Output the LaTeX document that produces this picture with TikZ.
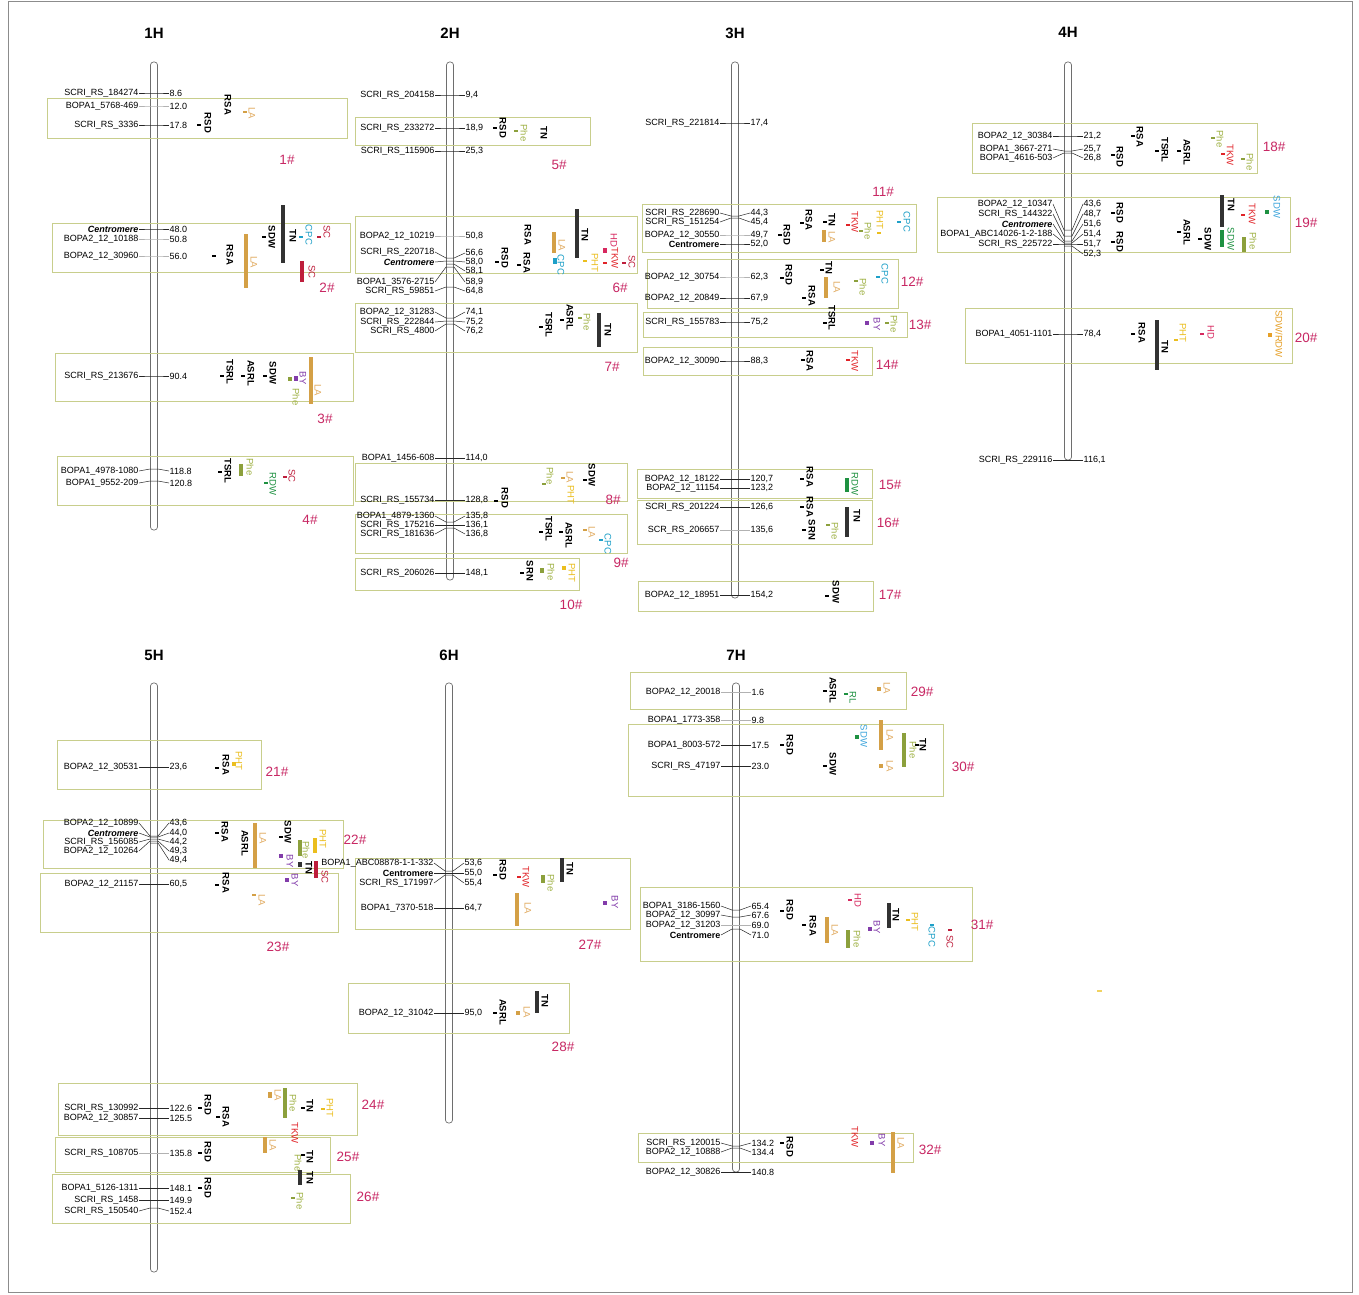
\documentclass[tikz,border=0pt]{standalone}
\usepackage{fontspec}
\setmainfont{Liberation Sans}
\newcounter{mkc}
\newcounter{tlc}
\definecolor{boxc}{RGB}{200,206,140}
\definecolor{numc}{RGB}{200,40,100}
\definecolor{laC}{RGB}{212,160,70}
\definecolor{laT}{RGB}{225,170,95}
\definecolor{pheC}{RGB}{140,160,60}
\definecolor{pheT}{RGB}{160,178,70}
\definecolor{phtC}{RGB}{235,190,30}
\definecolor{cpcC}{RGB}{30,160,200}
\definecolor{scC}{RGB}{190,30,60}
\definecolor{tkwC}{RGB}{225,35,40}
\definecolor{hdC}{RGB}{215,40,95}
\definecolor{byC}{RGB}{130,60,170}
\definecolor{grC}{RGB}{30,145,65}
\definecolor{sdwB}{RGB}{60,165,220}
\definecolor{tnC}{RGB}{50,50,50}
\definecolor{orC}{RGB}{230,160,40}
\definecolor{chrC}{RGB}{110,110,110}
\tikzset{
 mname/.style={font=\fontsize{9}{10}\selectfont, inner sep=0.5pt},
 mnum/.style={font=\fontsize{9}{10}\selectfont, inner sep=0.5pt},
 mline/.style={draw=black!85, line width=0.5pt},
 faint/.style={draw=black!30},
 trb/.style={rotate=-90, font=\bfseries\fontsize{9.5}{10}\selectfont, inner sep=0pt},
 trc/.style={rotate=-90, font=\fontsize{9.5}{10}\selectfont, inner sep=0pt},
 qbox/.style={draw=boxc, line width=0.9pt},
 qlab/.style={text=numc, font=\fontsize{13.5}{14}\selectfont, inner sep=0pt},
 chrom/.style={draw=chrC, line width=0.7pt, fill=white, rounded corners=3pt},
 ctitle/.style={font=\bfseries\fontsize{15}{16}\selectfont, inner sep=0pt},
}
\newcommand\chromo[5]{\stepcounter{tlc}\draw[chrom] ({#1-3.5},#2) rectangle ({#1+3.5},#3);
 \node[ctitle] (ch\thetlc) at (#1,#5) {#4};}
\newcommand\mk[7][]{\stepcounter{mkc}%
 \node[mname,anchor=east] (mn\themkc) at ({#2-15},#4) {#6};%
 \node[mnum,anchor=west] (mv\themkc) at ({#2+15},#5) {#7};%
 \draw[mline,#1] (mn\themkc.east) -- ({#2-4},#3) -- ({#2+4},#3) -- (mv\themkc.west);}
\newcommand\mkv[4]{\stepcounter{mkc}%
 \node[mnum,anchor=west] (mv\themkc) at ({#1+15},#3) {#4};%
 \coordinate (mc\themkc) at ({#1-4},#2);%
 \draw[mline] (mc\themkc) -- ({#1+4},#2) -- (mv\themkc.west);}
\newcommand\qtb[3]{\stepcounter{tlc}\node[trb] (tl\thetlc) at (#1,#2) {#3};}
\newcommand\qtc[4]{\stepcounter{tlc}\node[trc,text=#1] (tl\thetlc) at (#2,#3) {#4};}
\newcommand\qbar[4]{\fill[#1] ({#2-2},#3) rectangle ({#2+2},#4);}
\newcommand\qtk[3]{\fill[#1] ({#2-2},{#3-0.6}) rectangle ({#2+2},{#3+0.6});}
\newcommand\qbx[7]{\stepcounter{tlc}\draw[qbox] (#1,#2) rectangle (#3,#4);
 \node[qlab] (bx\thetlc) at (#6,#7) {#5};}
\begin{document}
\begin{tikzpicture}[x=1pt,y=-1pt]
\fill[white] (0,0) rectangle (1359,1294);
\useasboundingbox (0,0) rectangle (1359,1294);
\draw[black!45, line width=0.6pt] (8,1) rectangle (1352,1292);
% ---------- chromosomes
\chromo{154}{62}{530}{1H}{33}
\chromo{450}{62}{580}{2H}{33}
\chromo{735}{62}{598}{3H}{33}
\chromo{1068}{62}{460}{4H}{32}
\chromo{154}{683}{1272}{5H}{655}
\chromo{449}{683}{1123}{6H}{655}
\chromo{736}{683}{1172}{7H}{655}
% ---------- boxes
\qbx{47}{98}{347}{138}{1\#}{287}{160}
\qbx{52}{223}{350}{272}{2\#}{327}{288}
\qbx{55}{353}{353}{401}{3\#}{325}{419}
\qbx{57}{456}{353}{505}{4\#}{310}{520}
\qbx{355}{117}{590}{145}{5\#}{559}{165}
\qbx{355}{216}{637}{273}{6\#}{620}{288}
\qbx{355}{303}{637}{352}{7\#}{612}{367}
\qbx{355}{463}{627}{501}{8\#}{613}{500}
\qbx{355}{514}{627}{553}{9\#}{621}{563}
\qbx{355}{558}{579}{590}{10\#}{571}{605}
\qbx{642}{204}{916}{252}{11\#}{883}{192}
\qbx{647}{259}{898}{308}{12\#}{912}{282}
\qbx{643}{312}{907}{337}{13\#}{920}{325}
\qbx{643}{347}{872}{375}{14\#}{887}{365}
\qbx{637}{469}{872}{498}{15\#}{890}{485}
\qbx{637}{500}{872}{544}{16\#}{888}{523}
\qbx{638}{581}{873}{611}{17\#}{890}{595}
\qbx{972}{123}{1257}{173}{18\#}{1274}{147}
\qbx{937}{197}{1290}{252}{19\#}{1306}{223}
\qbx{965}{308}{1292}{363}{20\#}{1306}{338}
\qbx{57}{740}{261}{789}{21\#}{277}{772}
\qbx{43}{820}{343}{868}{22\#}{355}{840}
\qbx{40}{873}{338}{932}{23\#}{278}{947}
\qbx{58}{1083}{357}{1135}{24\#}{373}{1105}
\qbx{55}{1137}{330}{1172}{25\#}{348}{1157}
\qbx{52}{1174}{350}{1223}{26\#}{368}{1197}
\qbx{355}{858}{630}{929}{27\#}{590}{945}
\qbx{348}{983}{569}{1033}{28\#}{563}{1047}
\qbx{630}{672}{906}{709}{29\#}{922}{692}
\qbx{628}{724}{943}{796}{30\#}{963}{767}
\qbx{640}{887}{972}{961}{31\#}{982}{925}
\qbx{638}{1133}{913}{1162}{32\#}{930}{1150}
% ---------- markers 1H
\mk{154}{93}{93}{93}{SCRI\_RS\_184274}{8.6}
\mk[faint]{154}{106}{106}{106}{BOPA1\_5768-469}{12.0}
\mk{154}{125}{125}{125}{SCRI\_RS\_3336}{17.8}
\mk{154}{229}{229}{229}{\textbf{\textit{Centromere}}}{48.0}
\mk[faint]{154}{239}{239}{239}{BOPA2\_12\_10188}{50.8}
\mk[faint]{154}{256}{256}{256}{BOPA2\_12\_30960}{56.0}
\mk{154}{376}{376}{376}{SCRI\_RS\_213676}{90.4}
\mk{154}{469}{471}{471}{BOPA1\_4978-1080}{118.8}
\mk{154}{481}{483}{483}{BOPA1\_9552-209}{120.8}
% ---------- markers 2H
\mk{450}{95}{95}{95}{SCRI\_RS\_204158}{9,4}
\mk{450}{128}{128}{128}{SCRI\_RS\_233272}{18,9}
\mk[line width=1pt]{450}{151}{151}{151}{SCRI\_RS\_115906}{25,3}
\mk[faint]{450}{236}{236}{236}{BOPA2\_12\_10219}{50,8}
\mk{450}{258}{252}{253}{SCRI\_RS\_220718}{56,6}
\mk{450}{261}{262}{262}{\textbf{\textit{Centromere}}}{58,0}
\mkv{450}{264}{271}{58,1}
\mk{450}{267}{282}{282}{BOPA1\_3576-2715}{58,9}
\mk{450}{287}{291}{291}{SCRI\_RS\_59851}{64,8}
\mk{450}{318}{312}{312}{BOPA2\_12\_31283}{74,1}
\mk{450}{321}{322}{322}{SCRI\_RS\_222844}{75,2}
\mk{450}{324}{331}{331}{SCRI\_RS\_4800}{76,2}
\mk{450}{458}{458}{458}{BOPA1\_1456-608}{114,0}
\mk{450}{500}{500}{500}{SCRI\_RS\_155734}{128,8}
\mk{450}{522}{516}{516}{BOPA1\_4879-1360}{135,8}
\mk{450}{525}{525}{525}{SCRI\_RS\_175216}{136,1}
\mk{450}{528}{534}{534}{SCRI\_RS\_181636}{136,8}
\mk{450}{573}{573}{573}{SCRI\_RS\_206026}{148,1}
% ---------- markers 3H
\mk{735}{123}{123}{123}{SCRI\_RS\_221814}{17,4}
\mk{735}{216}{213}{213}{SCRI\_RS\_228690}{44,3}
\mk{735}{218}{222}{222}{SCRI\_RS\_151254}{45,4}
\mk[faint]{735}{235}{235}{235}{BOPA2\_12\_30550}{49,7}
\mk{735}{244}{244}{244}{\textbf{Centromere}}{52,0}
\mk[faint]{735}{277}{277}{277}{BOPA2\_12\_30754}{62,3}
\mk{735}{298}{298}{298}{BOPA2\_12\_20849}{67,9}
\mk{735}{322}{322}{322}{SCRI\_RS\_155783}{75,2}
\mk{735}{361}{361}{361}{BOPA2\_12\_30090}{88,3}
\mk{735}{479}{479}{479}{BOPA2\_12\_18122}{120,7}
\mk{735}{488}{488}{488}{BOPA2\_12\_11154}{123,2}
\mk{735}{507}{507}{507}{SCRI\_RS\_201224}{126,6}
\mk[faint]{735}{530}{530}{530}{SCR\_RS\_206657}{135,6}
\mk{735}{595}{595}{595}{BOPA2\_12\_18951}{154,2}
% ---------- markers 4H
\mk{1068}{136}{136}{136}{BOPA2\_12\_30384}{21,2}
\mk{1068}{151}{149}{149}{BOPA1\_3667-271}{25,7}
\mk{1068}{153}{158}{158}{BOPA1\_4616-503}{26,8}
\mk{1068}{230}{204}{204}{BOPA2\_12\_10347}{43,6}
\mk{1068}{236}{214}{214}{SCRI\_RS\_144322}{48,7}
\mk{1068}{241}{224}{224}{\textbf{\textit{Centromere}}}{51,6}
\mk{1068}{243}{234}{234}{BOPA1\_ABC14026-1-2-188}{51,4}
\mk{1068}{244}{244}{244}{SCRI\_RS\_225722}{51,7}
\mkv{1068}{246}{254}{52,3}
\mk{1068}{334}{334}{334}{BOPA1\_4051-1101}{78,4}
\mk{1068}{460}{460}{460}{SCRI\_RS\_229116}{116,1}
% ---------- markers 5H
\mk{154}{767}{767}{767}{BOPA2\_12\_30531}{23,6}
\mk{154}{836}{823}{823}{BOPA2\_12\_10899}{43,6}
\mk{154}{837}{833}{833}{\textbf{\textit{Centromere}}}{44,0}
\mk{154}{839}{842}{842}{SCRI\_RS\_156085}{44,2}
\mk{154}{841}{851}{851}{BOPA2\_12\_10264}{49,3}
\mkv{154}{843}{860}{49,4}
\mk{154}{884}{884}{884}{BOPA2\_12\_21157}{60,5}
\mk{154}{1108}{1108}{1108}{SCRI\_RS\_130992}{122.6}
\mk{154}{1118}{1118}{1118}{BOPA2\_12\_30857}{125.5}
\mk[faint]{154}{1153}{1153}{1153}{SCRI\_RS\_108705}{135.8}
\mk{154}{1188}{1188}{1188}{BOPA1\_5126-1311}{148.1}
\mk{154}{1200}{1200}{1200}{SCRI\_RS\_1458}{149.9}
\mk{154}{1208}{1211}{1211}{SCRI\_RS\_150540}{152.4}
% ---------- markers 6H
\mk{449}{871}{863}{863}{BOPA1\_ABC08878-1-1-332}{53,6}
\mk{449}{873}{873}{873}{\textbf{Centromere}}{55,0}
\mk{449}{875}{883}{883}{SCRI\_RS\_171997}{55,4}
\mk{449}{908}{908}{908}{BOPA1\_7370-518}{64,7}
\mk{449}{1013}{1013}{1013}{BOPA2\_12\_31042}{95,0}
% ---------- markers 7H
\mk[faint]{736}{692}{692}{692}{BOPA2\_12\_20018}{1.6}
\mk[faint]{736}{720}{720}{720}{BOPA1\_1773-358}{9.8}
\mk{736}{745}{745}{745}{BOPA1\_8003-572}{17.5}
\mk{736}{766}{766}{766}{SCRI\_RS\_47197}{23.0}
\mk{736}{910}{906}{906}{BOPA1\_3186-1560}{65.4}
\mk{736}{917}{915}{915}{BOPA2\_12\_30997}{67.6}
\mk[faint]{736}{925}{925}{925}{BOPA2\_12\_31203}{69.0}
\mk{736}{929}{935}{935}{\textbf{Centromere}}{71.0}
\mk{736}{1146}{1143}{1143}{SCRI\_RS\_120015}{134.2}
\mk{736}{1148}{1152}{1152}{BOPA2\_12\_10888}{134.4}
\mk{736}{1172}{1172}{1172}{BOPA2\_12\_30826}{140.8}
% ---------- traits 1#
\qtb{228}{105}{RSA}
\qtk{laC}{245}{112}\qtc{laT}{252}{113}{LA}
\qtk{black}{199}{125}\qtb{208}{123}{RSD}
% 2#
\qbar{tnC}{283}{205}{263}\qtb{293}{236}{TN}
\qtk{black}{264}{237}\qtb{272}{237}{SDW}
\qtk{cpcC}{301}{237}\qtc{cpcC}{309}{235}{CPC}
\qtk{scC}{319}{237}\qtc{scC}{327}{232}{SC}
\qtk{black}{214}{256}\qtb{230}{255}{RSA}
\qbar{laC}{246}{234}{288}\qtc{laT}{254}{262}{LA}
\qbar{scC}{302}{261}{282}\qtc{scC}{312}{272}{SC}
% 3#
\qtk{black}{222}{376}\qtb{230}{372}{TSRL}
\qtk{black}{243}{376}\qtb{251}{373}{ASRL}
\qtk{black}{265}{376}\qtb{273}{373}{SDW}
\qbar{byC}{296}{376}{381}\qtc{byC}{303}{378}{BY}
\qbar{pheC}{290}{377}{381}\qtc{pheT}{296}{397}{Phe}
\qbar{laC}{311}{357}{404}\qtc{laT}{318}{390}{LA}
% 4#
\qtk{black}{220}{472}\qtb{228}{471}{TSRL}
\qbar{pheC}{241}{464}{476}\qtc{pheT}{250}{467}{Phe}
\qtk{scC}{285}{477}\qtc{scC}{292}{476}{SC}
\qtk{grC}{266}{483}\qtc{grC}{273}{484}{RDW}
% 5#
\qtk{black}{495}{128}\qtb{503}{128}{RSD}
\qtk{pheC}{516}{131}\qtc{pheT}{524}{133}{Phe}
\qtb{544}{133}{TN}
% 6#
\qtb{528}{235}{RSA}
\qtk{black}{497}{262}\qtb{505}{258}{RSD}
\qtk{black}{519}{265}\qtb{527}{263}{RSA}
\qbar{laC}{554}{232}{253}\qtc{laT}{562}{245}{LA}
\qbar{cpcC}{555}{258}{264}\qtc{cpcC}{561}{265}{CPC}
\qbar{tnC}{577}{209}{258}\qtb{585}{235}{TN}
\qtk{phtC}{585}{261}\qtc{phtC}{595}{263}{PHT}
\qbar{hdC}{605}{248}{253}\qtc{hdC}{614}{240}{HD}
\qtk{tkwC}{605}{263}\qtc{tkwC}{615}{258}{TKW}
\qtk{scC}{624}{263}\qtc{scC}{632}{262}{SC}
% 7#
\qtk{black}{562}{320}\qtb{570}{317}{ASRL}
\qtk{black}{541}{327}\qtb{549}{325}{TSRL}
\qtk{pheC}{580}{318}\qtc{pheT}{587}{322}{Phe}
\qbar{tnC}{599}{313}{347}\qtb{608}{330}{TN}
% 8#
\qtk{black}{496}{501}\qtb{505}{498}{RSD}
\qtk{black}{585}{480}\qtb{592}{475}{SDW}
\qtk{laC}{563}{478}\qtc{laT}{570}{477}{LA}
\qtc{phtC}{571}{495}{PHT}
\qtk{pheC}{544}{484}\qtc{pheT}{550}{476}{Phe}
% 9#
\qtk{black}{541}{532}\qtb{549}{529}{TSRL}
\qtk{black}{561}{532}\qtb{569}{535}{ASRL}
\qtk{laC}{585}{530}\qtc{laT}{592}{532}{LA}
\qtk{cpcC}{601}{540}\qtc{cpcC}{608}{544}{CPC}
% 10#
\qtk{black}{522}{573}\qtb{530}{571}{SRN}
\qbar{pheC}{542}{568}{573}\qtc{pheT}{551}{572}{Phe}
\qbar{phtC}{564}{566}{570}\qtc{phtC}{572}{573}{PHT}
% 11#
\qtk{black}{802}{223}\qtb{809}{220}{RSA}
\qtk{black}{780}{235}\qtb{787}{235}{RSD}
\qtk{black}{825}{222}\qtb{832}{220}{TN}
\qbar{laC}{824}{230}{242}\qtc{laT}{832}{237}{LA}
\qtk{tkwC}{848}{225}\qtc{tkwC}{855}{222}{TKW}
\qtk{pheC}{861}{231}\qtc{pheT}{868}{231}{Phe}
\qtk{phtC}{879}{233}\qtc{phtC}{880}{220}{PHT}
\qtk{cpcC}{899}{222}\qtc{cpcC}{907}{222}{CPC}
% 12#
\qtk{black}{782}{278}\qtb{789}{275}{RSD}
\qtk{black}{804}{298}\qtb{812}{296}{RSA}
\qtk{black}{822}{270}\qtb{829}{268}{TN}
\qbar{laC}{826}{277}{298}\qtc{laT}{837}{287}{LA}
\qtk{pheC}{856}{281}\qtc{pheT}{863}{287}{Phe}
\qtk{cpcC}{878}{277}\qtc{cpcC}{885}{274}{CPC}
% 13#
\qtk{black}{825}{323}\qtb{832}{318}{TSRL}
\qbar{byC}{867}{321}{325}\qtc{byC}{877}{324}{BY}
\qtk{pheC}{887}{323}\qtc{pheT}{894}{324}{Phe}
% 14#
\qtk{black}{803}{360}\qtb{810}{361}{RSA}
\qtk{tkwC}{848}{360}\qtc{tkwC}{855}{361}{TKW}
% 15#
\qtk{black}{802}{479}\qtb{810}{477}{RSA}
\qbar{grC}{847}{478}{492}\qtc{grC}{855}{484}{RDW}
% 16#
\qtk{black}{802}{507}\qtb{810}{507}{RSA}
\qtk{black}{804}{530}\qtb{812}{530}{SRN}
\qbar{tnC}{847}{507}{537}\qtb{857}{516}{TN}
\qtk{pheC}{828}{525}\qtc{pheT}{835}{531}{Phe}
% 17#
\qtk{black}{827}{596}\qtb{836}{592}{SDW}
% 18#
\qtk{black}{1133}{136}\qtb{1140}{137}{RSA}
\qtk{black}{1113}{155}\qtb{1120}{157}{RSD}
\qtk{black}{1157}{151}\qtb{1165}{150}{TSRL}
\qtk{black}{1179}{151}\qtb{1187}{152}{ASRL}
\qtk{pheC}{1213}{138}\qtc{pheT}{1220}{139}{Phe}
\qtk{tkwC}{1223}{154}\qtc{tkwC}{1230}{155}{TKW}
\qtk{pheC}{1243}{159}\qtc{pheT}{1250}{162}{Phe}
% 19#
\qtk{black}{1113}{213}\qtb{1120}{213}{RSD}
\qtk{black}{1113}{242}\qtb{1120}{242}{RSD}
\qtk{black}{1179}{232}\qtb{1187}{232}{ASRL}
\qtk{black}{1200}{239}\qtb{1208}{239}{SDW}
\qbar{tnC}{1222}{195}{227}\qtb{1231}{205}{TN}
\qbar{grC}{1222}{230}{247}\qtc{grC}{1231}{239}{SDW}
\qtk{tkwC}{1243}{215}\qtc{tkwC}{1252}{214}{TKW}
\qbar{pheC}{1244}{237}{252}\qtc{pheT}{1253}{241}{Phe}
\qbar{grC}{1267}{210}{214}\qtc{sdwB}{1277}{207}{SDW}
% 20#
\qtk{black}{1133}{334}\qtb{1142}{333}{RSA}
\qbar{tnC}{1157}{320}{370}\qtb{1165}{347}{TN}
\qtk{phtC}{1176}{340}\qtc{phtC}{1183}{333}{PHT}
\qtk{hdC}{1202}{334}\qtc{hdC}{1211}{332}{HD}
\qbar{orC}{1270}{333}{337}\qtc{orC}{1279}{334}{SDW/RDW}
% 21#
\qtk{black}{217}{768}\qtb{226}{765}{RSA}
\qbar{phtC}{234}{762}{766}\qtc{phtC}{239}{761}{PHT}
% 22#
\qtk{black}{217}{833}\qtb{225}{832}{RSA}
\qtb{245}{843}{ASRL}
\qbar{laC}{255}{823}{868}\qtc{laT}{263}{838}{LA}
\qtk{black}{281}{837}\qtb{288}{832}{SDW}
\qbar{byC}{281}{854}{858}\qtc{byC}{290}{861}{BY}
\qbar{pheC}{300}{840}{856}\qtc{pheT}{306}{850}{Phe}
\qbar{phtC}{315}{838}{853}\qtc{phtC}{323}{839}{PHT}
\qbar{tnC}{300}{862}{867}\qtb{309}{868}{TN}
\qbar{scC}{316}{861}{878}\qtc{scC}{325}{877}{SC}
% 23#
\qtk{black}{217}{885}\qtb{226}{883}{RSA}
\qbar{byC}{287}{878}{882}\qtc{byC}{295}{880}{BY}
\qtk{laC}{254}{895}\qtc{laT}{262}{900}{LA}
% 24#
\qtk{black}{200}{1108}\qtb{208}{1105}{RSD}
\qtk{black}{218}{1117}\qtb{226}{1117}{RSA}
\qbar{laC}{270}{1092}{1098}\qtc{laT}{278}{1095}{LA}
\qbar{pheC}{285}{1088}{1118}\qtc{pheT}{293}{1103}{Phe}
\qtk{black}{303}{1108}\qtb{310}{1106}{TN}
\qtk{phtC}{323}{1109}\qtc{phtC}{330}{1108}{PHT}
\qtc{tkwC}{295}{1133}{TKW}
% 25#
\qtk{black}{200}{1153}\qtb{208}{1152}{RSD}
\qbar{laC}{265}{1137}{1153}\qtc{laT}{273}{1145}{LA}
\qtk{black}{303}{1155}\qtb{310}{1157}{TN}
\qtc{pheT}{298}{1163}{Phe}
% 26#
\qtk{black}{200}{1188}\qtb{208}{1188}{RSD}
\qbar{tnC}{300}{1170}{1185}\qtb{310}{1178}{TN}
\qtk{pheC}{293}{1198}\qtc{pheT}{300}{1201}{Phe}
% 27#
\qtk{black}{495}{875}\qtb{503}{870}{RSD}
\qtk{tkwC}{519}{877}\qtc{tkwC}{526}{877}{TKW}
\qbar{pheC}{543}{875}{883}\qtc{pheT}{551}{883}{Phe}
\qbar{tnC}{562}{858}{882}\qtb{570}{869}{TN}
\qbar{laC}{517}{893}{926}\qtc{laT}{528}{908}{LA}
\qbar{byC}{605}{901}{905}\qtc{byC}{615}{902}{BY}
% 28#
\qtk{black}{495}{1013}\qtb{503}{1012}{ASRL}
\qbar{tnC}{537}{991}{1013}\qtb{545}{1001}{TN}
\qbar{laC}{518}{1011}{1015}\qtc{laT}{527}{1012}{LA}
% 29#
\qtk{black}{825}{691}\qtb{833}{690}{ASRL}
\qtk{grC}{846}{694}\qtc{grC}{853}{698}{RL}
\qbar{laC}{879}{687}{691}\qtc{laT}{887}{688}{LA}
% 30#
\qtk{black}{782}{745}\qtb{790}{745}{RSD}
\qtk{black}{825}{766}\qtb{833}{764}{SDW}
\qbar{grC}{857}{735}{739}\qtc{sdwB}{864}{736}{SDW}
\qbar{laC}{881}{720}{750}\qtc{laT}{890}{735}{LA}
\qbar{laC}{881}{764}{768}\qtc{laT}{890}{766}{LA}
\qbar{pheC}{904}{733}{767}\qtc{pheT}{913}{750}{Phe}
\qtk{black}{917}{745}\qtb{923}{745}{TN}
% 31#
\qtk{black}{782}{911}\qtb{790}{910}{RSD}
\qtk{black}{804}{925}\qtb{813}{926}{RSA}
\qtk{hdC}{850}{900}\qtc{hdC}{858}{900}{HD}
\qbar{laC}{827}{917}{943}\qtc{laT}{835}{930}{LA}
\qbar{pheC}{848}{930}{948}\qtc{pheT}{857}{939}{Phe}
\qbar{byC}{870}{927}{931}\qtc{byC}{877}{927}{BY}
\qbar{tnC}{889}{903}{928}\qtb{896}{915}{TN}
\qtk{phtC}{908}{920}\qtc{phtC}{915}{922}{PHT}
\qtk{cpcC}{932}{925}\qtc{cpcC}{932}{937}{CPC}
\qtk{scC}{950}{930}\qtc{scC}{950}{942}{SC}
% 32#
\qtk{black}{782}{1143}\qtb{790}{1147}{RSD}
\qtc{tkwC}{855}{1137}{TKW}
\qbar{byC}{872}{1141}{1145}\qtc{byC}{882}{1140}{BY}
\qbar{laC}{893}{1132}{1173}\qtc{laT}{901}{1143}{LA}
% stray mark
\fill[phtC!70] (1097,990) rectangle (1102,991.5);
\end{tikzpicture}
\end{document}
